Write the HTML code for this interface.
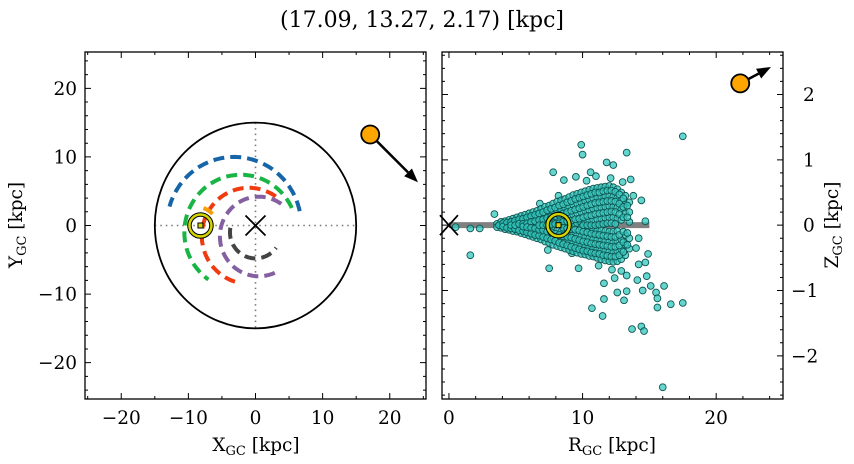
<!DOCTYPE html>
<html><head><meta charset="utf-8">
<style>
html,body{margin:0;padding:0;background:#fff;}
svg{display:block;font-family:"DejaVu Serif","Liberation Serif",serif;}
</style></head>
<body>
<svg id="fig" width="854" height="464" viewBox="0 0 854 464" xmlns="http://www.w3.org/2000/svg">
<text x="422" y="27" font-size="22" text-anchor="middle">(17.09, 13.27, 2.17) [kpc]</text>
<g id="left"></g>
<g id="right"></g>
<text x="256" y="451" font-size="18.5" text-anchor="middle">X<tspan font-size="13" dy="4">GC</tspan><tspan dy="-4"> [kpc]</tspan></text>
<text x="22" y="225" font-size="18.5" text-anchor="middle" transform="rotate(-90 22 225)">Y<tspan font-size="13" dy="4">GC</tspan><tspan dy="-4"> [kpc]</tspan></text>
<text x="612" y="451" font-size="18.5" text-anchor="middle">R<tspan font-size="13" dy="4">GC</tspan><tspan dy="-4"> [kpc]</tspan></text>
<text x="838" y="225" font-size="18.5" text-anchor="middle" transform="rotate(-90 838 225)">Z<tspan font-size="13" dy="4">GC</tspan><tspan dy="-4"> [kpc]</tspan></text>
</svg>
<script>
// ---- Left panel data ----
const xyTicks = [-20, -10, 0, 10, 20];
const xyTickLabels = ["\u221220", "\u221210", "0", "10", "20"];
// orbit arcs: center x, center y, radius, start deg, end deg (data units)
const arcCx = [-3.2, -2.2, -1, 0.5, 0, -8.4];
const arcCy = [0, -1, -1.5, -1.6, -1, 0];
const arcR = [10, 8.4, 7, 5.8, 3.8, 2.6];
const arcStart = [12, 25, 55, 55, 170, 40];
const arcEnd = [165, 235, 255, 295, 325, 95];
const arcColors = ["#1565a8", "#18b545", "#f03a10", "#8560a0", "#444444", "#f5a00a"];
const objXY = [17.09, 13.27];
const objArrowXY = [24.2, 6.3];
const sunXY = [-8.2, 0];
// ---- Right panel data ----
const rTicks = [0, 10, 20];
const rTickLabels = ["0", "10", "20"];
const zTicks = [-2, -1, 0, 1, 2];
const zTickLabels = ["\u22122", "\u22121", "0", "1", "2"];
const objRZ = [21.8, 2.17];
const objArrowRZ = [24.1, 2.42];
// sparse / outlier stars
const starR = [17.5,9.9,10.0,13.3,11.8,7.8,8.6,9.5,10.6,12.3,13.6,14.4,14.7,14.2,3.4,1.6,2.3,1.6,0.5,
7.5,9.7,11.6,12.4,12.6,13.3,13.3,14.8,14.7,14.9,14.2,14.1,14.5,15.1,15.5,15.6,16.1,15.6,16.6,17.5,13.1,10.7,11.6,11.5,13.7,14.4,14.6,16.0,9.2,
6.8,7.4,8.2,10.3,11.2,12.1,12.9,13.8,14.0,13.0,12.2,11.0];
const starZ = [1.36,1.23,1.08,1.11,0.96,0.81,0.69,0.74,0.81,0.92,0.70,0.38,0.06,-0.20,0.17,-0.05,-0.05,-0.46,-0.03,
-0.66,-0.66,-0.89,-0.81,-1.03,-1.01,-0.77,-0.78,-0.57,-0.44,-0.60,-0.84,-1.00,-0.93,-1.03,-1.12,-0.93,-1.26,-1.21,-1.19,-1.15,-1.27,-1.13,-1.39,-1.59,-1.55,-1.62,-2.48,-0.43,
0.33,-0.38,0.45,0.68,-0.62,0.72,-0.70,0.45,-0.35,0.66,-0.68,0.75];
// dense core: R columns with Z values per column
const coreR = [3.6,3.9,4.2,4.5,4.8,5.1,5.4,5.7,6.0,6.3,6.6,6.9,7.2,7.5,7.8,8.1,8.4,8.7,9.0,9.3,9.6,9.9,10.2,10.5,10.8,11.1,11.4,11.7,12.0,12.3,12.6,12.9,13.2,13.5];
const coreZ = [
[0.02,-0.03],[0.05,-0.04,0.0],[0.06,-0.06,0.01],[0.08,-0.07,0.02,-0.02],[0.1,-0.09,0.03,-0.03],
[0.12,-0.1,0.04,-0.05],[0.14,-0.12,0.05,-0.04,0.0],[0.16,-0.14,0.07,-0.06,0.01],[0.18,-0.16,0.09,-0.08,0.0],
[0.2,-0.18,0.1,-0.1,0.02],[0.22,-0.2,0.12,-0.11,0.03,-0.02],[0.25,-0.22,0.14,-0.12,0.04,-0.04],
[0.28,-0.25,0.16,-0.14,0.05,-0.05],[0.3,-0.27,0.18,-0.16,0.07,-0.06],[0.33,-0.3,0.2,-0.18,0.08,-0.07],
[0.36,-0.32,0.22,-0.2,0.09,-0.08],[0.38,-0.34,0.24,-0.22,0.1,-0.1],[0.4,-0.36,0.26,-0.24,0.12,-0.11,0.0],
[0.43,-0.38,0.28,-0.25,0.14,-0.12,0.01],[0.46,-0.4,0.31,-0.27,0.16,-0.14,0.02],[0.48,-0.42,0.33,-0.29,0.18,-0.15,0.03],
[0.5,-0.44,0.35,-0.31,0.2,-0.17,0.04,-0.03],[0.52,-0.45,0.37,-0.32,0.22,-0.18,0.06,-0.05],[0.54,-0.47,0.39,-0.34,0.23,-0.2,0.07,-0.06],
[0.56,-0.48,0.41,-0.35,0.25,-0.21,0.08,-0.07],[0.57,-0.5,0.42,-0.36,0.26,-0.22,0.09,-0.08],[0.58,-0.52,0.43,-0.38,0.27,-0.23,0.1,-0.08],
[0.59,-0.54,0.44,-0.39,0.28,-0.24,0.11,-0.09],[0.6,-0.55,0.45,-0.4,0.29,-0.25,0.12,-0.1],[0.58,-0.56,0.44,-0.41,0.28,-0.26,0.12,-0.1],
[0.55,-0.55,0.42,-0.4,0.27,-0.25,0.1,-0.09],[0.5,-0.52,0.38,-0.37,0.24,-0.22,0.08],[0.45,-0.46,0.32,-0.3,0.18,-0.15],[0.35,-0.36,0.2,-0.2,0.05]];
const coreR2 = [3.75,4.05,4.35,4.65,4.95,5.25,5.55,5.85,6.15,6.45,6.75,7.05,7.35,7.65,7.95,8.25,8.55,8.85,9.15,9.45,9.75,10.05,10.35,10.65,10.95,11.25,11.55,11.85,12.15,12.45,12.75,13.05,13.35];
const coreZ2 = [
[0.0],[0.03,-0.02],[0.04,-0.04],[0.05,-0.05,0.0],[0.07,-0.06,0.0],[0.09,-0.08,0.02],[0.1,-0.09,0.02,-0.02],
[0.12,-0.11,0.03,-0.03],[0.14,-0.13,0.05,-0.04],[0.16,-0.15,0.06,-0.05],[0.18,-0.16,0.08,-0.07,0.0],[0.2,-0.18,0.09,-0.08,0.0],
[0.23,-0.2,0.11,-0.1,0.0],[0.25,-0.22,0.13,-0.11,0.01],[0.27,-0.24,0.14,-0.13,0.02],[0.3,-0.27,0.16,-0.15,0.03],
[0.32,-0.29,0.18,-0.17,0.05,-0.04],[0.35,-0.31,0.2,-0.18,0.06,-0.05],[0.37,-0.33,0.22,-0.19,0.07,-0.06],[0.4,-0.35,0.24,-0.21,0.09,-0.07],
[0.42,-0.37,0.26,-0.23,0.1,-0.08],[0.44,-0.39,0.28,-0.25,0.12,-0.1,0.0],[0.46,-0.4,0.3,-0.26,0.14,-0.11,0.0],[0.48,-0.42,0.32,-0.28,0.15,-0.13,0.0],
[0.5,-0.43,0.34,-0.29,0.17,-0.14,0.0],[0.5,-0.44,0.35,-0.3,0.18,-0.15,0.01],[0.52,-0.46,0.36,-0.31,0.19,-0.16,0.02],[0.53,-0.47,0.37,-0.32,0.2,-0.17,0.03],
[0.53,-0.48,0.37,-0.33,0.21,-0.18,0.03],[0.51,-0.48,0.36,-0.33,0.2,-0.18,0.02],[0.47,-0.46,0.33,-0.31,0.17,-0.15],[0.41,-0.41,0.28,-0.26,0.12,-0.1],[0.3,-0.3,0.12,-0.12]];

const NS = "http://www.w3.org/2000/svg";
function mk(parent, tag, attrs){const e=document.createElementNS(NS,tag);for(const k in attrs)e.setAttribute(k,attrs[k]);parent.appendChild(e);return e;}

// ---- Left panel ----
const L = document.getElementById('left');
const lx0=85,lx1=426,ly0=52,ly1=399, xmin=-25.4,xmax=25.4,ymin=-25.3,ymax=25.3;
const X = v => lx0+(v-xmin)/(xmax-xmin)*(lx1-lx0);
const Y = v => ly1-(v-ymin)/(ymax-ymin)*(ly1-ly0);
let e=mk(L,'line',{x1:X(-15),x2:X(15),y1:Y(0),y2:Y(0),stroke:'#777','stroke-width':1.6,'stroke-dasharray':'1.5,4'});

e=mk(L,'line',{x1:X(0),x2:X(0),y1:Y(15),y2:Y(-15),stroke:'#777','stroke-width':1.6,'stroke-dasharray':'1.5,4'});

e=mk(L,'ellipse',{cx:X(0),cy:Y(0),rx:X(15)-X(0),ry:Y(0)-Y(15),fill:'none',stroke:'#000','stroke-width':1.8});

for(let i=0;i<arcR.length;i++){
  let pts=[];
  for(let a=arcStart[i];a<=arcEnd[i];a+=2){const t=a*Math.PI/180;pts.push(X(arcCx[i]+arcR[i]*Math.cos(t)).toFixed(1)+','+Y(arcCy[i]+arcR[i]*Math.sin(t)).toFixed(1));}
  e=mk(L,'polyline',{points:pts.join(' '),fill:'none',stroke:arcColors[i],'stroke-width':4,'stroke-dasharray':'11,6'});
  
  
}
const gcx=X(0),gcy=Y(0);
e=mk(L,'path',{d:`M${gcx-10},${gcy-10}L${gcx+10},${gcy+10}M${gcx-10},${gcy+10}L${gcx+10},${gcy-10}`,stroke:'#000','stroke-width':1.8});

function sun(p,cx,cy,nm){const g=mk(p,'g',{});
 mk(g,'circle',{cx,cy,r:11,fill:'none',stroke:'#000','stroke-width':4.5});
 mk(g,'circle',{cx,cy,r:11,fill:'none',stroke:'#d4d400','stroke-width':2.5});
 mk(g,'rect',{x:cx-2.5,y:cy-2.5,width:5,height:5,fill:'#d4d400',stroke:'#000','stroke-width':1});}
sun(L,X(sunXY[0]),Y(sunXY[1]),'sun-marker-xy');
function obj(p,x,y,ax,ay,nm){const g=mk(p,'g',{});
 const dx=ax-x,dy=ay-y,len=Math.hypot(dx,dy),ux=dx/len,uy=dy/len;
 const hx=ax-ux*14,hy=ay-uy*14;
 mk(g,'line',{x1:x,y1:y,x2:hx,y2:hy,stroke:'#000','stroke-width':2.5});
 mk(g,'polygon',{points:`${ax},${ay} ${hx-uy*5.5},${hy+ux*5.5} ${hx+uy*5.5},${hy-ux*5.5}`,fill:'#000'});
 mk(g,'circle',{cx:x,cy:y,r:9,fill:'#ffa500',stroke:'#000','stroke-width':1.8});}
obj(L,X(objXY[0]),Y(objXY[1]),X(objArrowXY[0]),Y(objArrowXY[1]),'object-marker-xy');
e=mk(L,'rect',{x:lx0,y:ly0,width:lx1-lx0,height:ly1-ly0,fill:'none',stroke:'#000','stroke-width':1.3});

let tk='';
for(let v=-25;v<=25;v+=5){const p=X(v),l=(v%10===0)?6:3;tk+=`M${p},${ly1}v${-l}M${p},${ly0}v${l}`;}
for(let v=-24;v<=24;v+=2){const p=Y(v),l=(v%10===0)?6:3;tk+=`M${lx0},${p}h${l}M${lx1},${p}h${-l}`;}
e=mk(L,'path',{d:tk,stroke:'#000','stroke-width':1});
xyTicks.forEach((v,i)=>{
 let t=mk(L,'text',{x:X(v),y:ly1+25,'font-size':18.5,'text-anchor':'middle'});t.textContent=xyTickLabels[i];
 
 t=mk(L,'text',{x:lx0-8,y:Y(v)+6.5,'font-size':18.5,'text-anchor':'end'});t.textContent=xyTickLabels[i];
 
});

// ---- Right panel ----
const R = document.getElementById('right');
const rx0=442,rx1=783,ry0=52,ry1=399,rmin=-0.52,rmax=25.0,zmin=-2.66,zmax=2.65;
const RX = v => rx0+(v-rmin)/(rmax-rmin)*(rx1-rx0);
const RY = v => ry1-(v-zmin)/(zmax-zmin)*(ry1-ry0);
e=mk(R,'line',{x1:RX(0),x2:RX(15),y1:RY(0),y2:RY(0),stroke:'#808080','stroke-width':6});

const sg=mk(R,'g',{});
function star(r,z){
 const c=mk(sg,'circle',{cx:RX(r),cy:RY(z),r:3.4,fill:'#30c8be','fill-opacity':0.75,stroke:'#0f5552','stroke-width':0.9});
 
 
}
for(let i=0;i<starR.length;i++) star(starR[i],starZ[i]);
for(let i=0;i<coreR.length;i++) for(const z of coreZ[i]) star(coreR[i],z);
for(let i=0;i<coreR2.length;i++) for(const z of coreZ2[i]) star(coreR2[i],z);
const rcx=RX(0),rcy=RY(0);
e=mk(R,'path',{d:`M${rcx-9},${rcy-10}L${rcx+9},${rcy+10}M${rcx-9},${rcy+10}L${rcx+9},${rcy-10}`,stroke:'#000','stroke-width':1.8});

sun(R,RX(8.2),RY(0),'sun-marker-rz');
obj(R,RX(objRZ[0]),RY(objRZ[1]),RX(objArrowRZ[0]),RY(objArrowRZ[1]),'object-marker-rz');
e=mk(R,'rect',{x:rx0,y:ry0,width:rx1-rx0,height:ry1-ry0,fill:'none',stroke:'#000','stroke-width':1.3});

tk='';
for(let v=0;v<=24;v+=2){const p=RX(v),l=(v%10===0)?6:3;tk+=`M${p},${ry1}v${-l}M${p},${ry0}v${l}`;}
for(let k=-13;k<=13;k++){const v=k/5,p=RY(v),l=(k%5===0)?6:3;tk+=`M${rx0},${p}h${l}M${rx1},${p}h${-l}`;}
e=mk(R,'path',{d:tk,stroke:'#000','stroke-width':1});
rTicks.forEach((v,i)=>{let t=mk(R,'text',{x:RX(v),y:ry1+25,'font-size':18.5,'text-anchor':'middle'});t.textContent=rTickLabels[i];
 });
zTicks.forEach((v,i)=>{let t=mk(R,'text',{x:rx1+(v<0?8:20),y:RY(v)+6.5,'font-size':18.5,'text-anchor':'start'});t.textContent=zTickLabels[i];
 });
</script>
</body></html>
